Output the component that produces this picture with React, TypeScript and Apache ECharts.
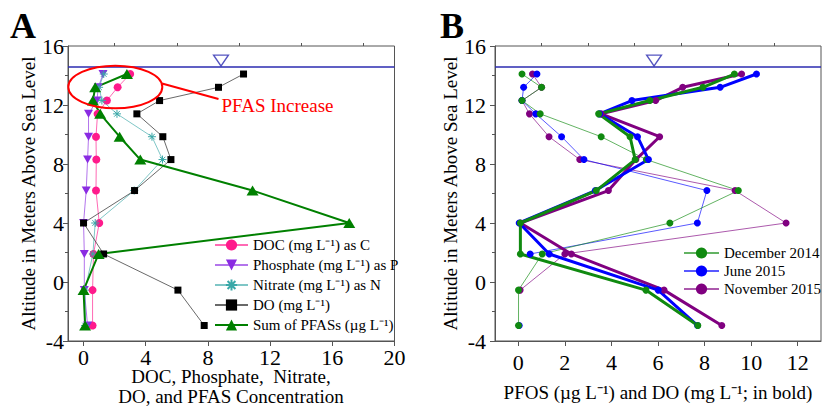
import React, { useEffect, useRef } from 'react';
import * as echarts from 'echarts';

// ---------- data ----------
const ALTITUDE = [14.1, 13.2, 12.3, 11.4, 9.85, 8.3, 6.2, 4.0, 1.9, -0.55, -2.95];

// Panel A
const DOC = [3.0, 2.19, 1.5, 0.9, 0.8, 0.82, 0.8, 1.01, 0.64, 0.58, 0.58];
const PHOSPHATE = [1.25, 0.95, 0.86, 0.32, 0.32, 0.26, 0.17, 0.0, 0.05, 0.05, 0.26];
const NITRATE = [1.3, 1.0, 1.18, 2.15, 4.4, 5.08, 3.26, 0.75, 0.6, 0.1, 0.1];
const DO_A = [10.29, 8.68, 4.89, 3.43, 5.1, 5.62, 3.28, 0.0, 1.29, 6.07, 7.76];
const PFAS_SUM = [2.79, 0.75, 0.6, 1.07, 2.32, 3.65, 10.87, 17.09, 0.97, 0.0, 0.1];

// Panel B (thin = PFOS, bold = DO)
const PFOS_DEC14 = [0.16, 1.0, 0.16, 0.94, 3.56, 5.5, 9.45, 6.51, 1.03, 0.01, 0.01];
const PFOS_JUN15 = [0.8, 0.23, 0.16, 0.75, 1.86, 2.82, 8.1, 7.69, 0.51, null, 0.04];
const PFOS_NOV15 = [0.61, 1.0, 0.16, 0.48, 1.32, 2.64, 9.31, 11.5, 2.0, 0.08, null];
const DO_DEC14 = [9.28, 7.93, 5.65, 3.45, 4.8, 5.02, 3.35, 0.09, 0.09, 5.48, 7.71];
const DO_JUN15 = [10.23, 8.67, 4.88, 3.49, 5.12, 5.59, 3.31, 0.04, 1.33, 6.01, 7.7];
const DO_NOV15 = [9.59, 7.06, 5.9, 3.56, 6.07, 5.05, 3.87, 0.09, 2.28, 6.26, 8.74];

const WATER_LEVEL = 14.6;
const WATER_MARK_A = [8.84, 15.01];
const WATER_MARK_B = [5.83, 15.01];

const X_TICKS_A = [0, 4, 8, 12, 16, 20];
const X_MINOR_A = [2, 6, 10, 14, 18];
const X_TICKS_B = [0, 2, 4, 6, 8, 10, 12];
const X_MINOR_B = [1, 3, 5, 7, 9, 11];

const NAMES_A = [
  'DOC (mg L⁻¹) as C',
  'Phosphate (mg L⁻¹) as P',
  'Nitrate (mg L⁻¹) as N',
  'DO (mg L⁻¹)',
  'Sum of PFASs (µg L⁻¹)',
];
const NAMES_B = ['December 2014', 'June 2015', 'November 2015'];

const X_TITLE_A = 'DOC, Phosphate,  Nitrate,\nDO, and PFAS Concentration';
const X_TITLE_B = 'PFOS (µg L⁻¹) and DO (mg L⁻¹; in bold)';

// ---------- styling ----------
const FONT = '"Liberation Serif", "Times New Roman", serif';
const AXIS_COLOR = '#555';
const WATER_COLOR = '#2b2bb0';
const DOWN_TRI = 'path://M0,0L10,0L5,8.7Z';
const ASTERISK = 'path://M0,5L10,5M5,0L5,10M1.5,1.5L8.5,8.5M8.5,1.5L1.5,8.5';

const pairs = (xs: (number | null)[]) =>
  xs.map((x, i) => [x === null ? '-' : x, ALTITUDE[i]]);

function xAxes(grid: number, min: number, max: number, major: number[], minor: number[], name: string, nameGap: number, labelMargin: number) {
  return [
    {
      gridIndex: grid,
      type: 'value',
      min,
      max,
      name,
      nameLocation: 'middle',
      nameGap,
      nameMoveOverlap: false,
      nameTextStyle: { fontFamily: FONT, fontSize: 19, color: '#000', lineHeight: 21 },
      axisLine: { show: true, onZero: false, lineStyle: { color: AXIS_COLOR, width: 1 } },
      axisTick: { show: true, customValues: major, length: 5, lineStyle: { color: AXIS_COLOR } },
      axisLabel: { show: true, customValues: major, margin: labelMargin, fontFamily: FONT, fontSize: 22, color: '#000' },
      splitLine: { show: false },
    },
    {
      gridIndex: grid,
      type: 'value',
      min,
      max,
      axisLine: { show: false, onZero: false },
      axisTick: { show: true, customValues: minor, length: 3, lineStyle: { color: AXIS_COLOR } },
      axisLabel: { show: false },
      splitLine: { show: false },
    },
  ];
}

function yAxis(grid: number, labelMargin: number, nameGap: number) {
  return {
    gridIndex: grid,
    type: 'value',
    min: -4,
    max: 16,
    interval: 4,
    name: 'Altitude in Meters Above Sea Level',
    nameLocation: 'middle',
    nameGap,
    nameTextStyle: { fontFamily: FONT, fontSize: 19, color: '#000' },
    axisLine: { show: true, onZero: false, lineStyle: { color: AXIS_COLOR, width: 1 } },
    axisTick: { show: true, length: 5, lineStyle: { color: AXIS_COLOR } },
    minorTick: { show: true, splitNumber: 2, length: 3, lineStyle: { color: AXIS_COLOR } },
    axisLabel: { margin: labelMargin, fontFamily: FONT, fontSize: 22, color: '#000' },
    splitLine: { show: false },
  };
}

function thin(name: string, xi: number, yi: number, data: (number | null)[], color: string, symbol: string, size: number | number[], extra: any = {}) {
  return {
    name,
    type: 'line',
    xAxisIndex: xi,
    yAxisIndex: yi,
    data: pairs(data),
    symbol,
    symbolSize: size,
    showSymbol: true,
    connectNulls: false,
    lineStyle: { color, width: 1, opacity: 0.65 },
    itemStyle: { color },
    emphasis: { disabled: true },
    ...extra,
  };
}

function waterSeries(xi: number, yi: number, mark: number[]) {
  return {
    name: 'water' + xi,
    type: 'scatter',
    xAxisIndex: xi,
    yAxisIndex: yi,
    data: [mark],
    symbol: DOWN_TRI,
    symbolSize: [15, 11],
    itemStyle: { color: '#fff', borderColor: WATER_COLOR, borderWidth: 1.3 },
    emphasis: { disabled: true },
    z: 5,
    markLine: {
      silent: true,
      symbol: 'none',
      label: { show: false },
      lineStyle: { color: WATER_COLOR, width: 1.5, type: 'solid' },
      data: [{ yAxis: WATER_LEVEL }],
    },
  };
}

const gridBase = {
  show: true,
  borderColor: AXIS_COLOR,
  borderWidth: 1,
  backgroundColor: 'transparent',
  containLabel: false,
  outerBoundsMode: 'none',
};

const option: any = {
  animation: false,
  backgroundColor: '#fff',
  textStyle: { fontFamily: FONT },
  grid: [
    { ...gridBase, left: 68, top: 46, width: 326.5, height: 295 },
    { ...gridBase, left: 495, top: 46, width: 326, height: 295 },
  ],
  xAxis: [
    ...xAxes(0, -1, 20, X_TICKS_A, X_MINOR_A, '', 26, 5),
    ...xAxes(1, -1, 13, X_TICKS_B, X_MINOR_B, X_TITLE_B, 41, 10),
  ],
  yAxis: [yAxis(0, 4, 27), yAxis(1, 9, 35)],
  legend: [
    {
      data: NAMES_A,
      orient: 'vertical',
      left: 209,
      top: 232,
      itemWidth: 33,
      itemHeight: 14,
      itemGap: 4,
      textStyle: { fontFamily: FONT, fontSize: 15, color: '#000', lineHeight: 16 },
      selectedMode: false,
    },
    {
      data: NAMES_B,
      orient: 'vertical',
      left: 678,
      top: 240,
      itemWidth: 35,
      itemHeight: 14,
      itemGap: 2,
      textStyle: { fontFamily: FONT, fontSize: 15, color: '#000', lineHeight: 16 },
      selectedMode: false,
    },
  ],
  series: [
    waterSeries(0, 0, WATER_MARK_A),
    thin(NAMES_A[0], 0, 0, DOC, '#ff1a8c', 'circle', 8),
    thin(NAMES_A[1], 0, 0, PHOSPHATE, '#8a2be2', DOWN_TRI, [9, 8]),
    thin(NAMES_A[2], 0, 0, NITRATE, '#3aa8a8', ASTERISK, 8, {
      itemStyle: { color: 'rgba(0,0,0,0)', borderColor: '#3aa8a8', borderWidth: 1 },
    }),
    thin(NAMES_A[3], 0, 0, DO_A, '#000', 'rect', 7, { lineStyle: { color: '#444', width: 1, opacity: 0.8 } }),
    {
      name: NAMES_A[4],
      type: 'line',
      xAxisIndex: 0,
      yAxisIndex: 0,
      data: pairs(PFAS_SUM),
      symbol: 'triangle',
      symbolSize: [12, 10],
      lineStyle: { color: '#008000', width: 2 },
      itemStyle: { color: '#008000' },
      emphasis: { disabled: true },
    },

    waterSeries(2, 1, WATER_MARK_B),
    thin(NAMES_B[2], 2, 1, PFOS_NOV15, '#800080', 'circle', 7),
    thin(NAMES_B[1], 2, 1, PFOS_JUN15, '#0000ff', 'circle', 7),
    thin(NAMES_B[0], 2, 1, PFOS_DEC14, '#108a10', 'circle', 7),
    thin('DO November 2015', 2, 1, DO_NOV15, '#800080', 'circle', 7, { lineStyle: { color: '#800080', width: 3 } }),
    thin('DO June 2015', 2, 1, DO_JUN15, '#0000ff', 'circle', 7, { lineStyle: { color: '#0000ff', width: 3 } }),
    thin('DO December 2014', 2, 1, DO_DEC14, '#108a10', 'circle', 7, { lineStyle: { color: '#108a10', width: 3 } }),
  ],
  graphic: [
    { type: 'text', left: 10, top: 8, style: { text: 'A', font: `bold 36px ${FONT}`, fill: '#000' } },
    { type: 'text', left: 440, top: 8, style: { text: 'B', font: `bold 36px ${FONT}`, fill: '#000' } },
    {
      type: 'text',
      x: 231,
      y: 386,
      style: {
        text: X_TITLE_A,
        font: `19px ${FONT}`,
        fill: '#000',
        lineHeight: 20,
        align: 'center',
        textAlign: 'center',
        verticalAlign: 'middle',
        textVerticalAlign: 'middle',
      },
    },
    {
      type: 'ellipse',
      shape: { cx: 115.3, cy: 87, rx: 47, ry: 21.3 },
      style: { fill: 'none', stroke: '#ff0000', lineWidth: 2 },
      z: 100,
    },
    {
      type: 'line',
      shape: { x1: 162, y1: 83.5, x2: 218.5, y2: 99 },
      style: { stroke: '#ff0000', lineWidth: 2 },
      z: 100,
    },
    {
      type: 'text',
      x: 221.5,
      y: 105,
      style: { text: 'PFAS Increase', font: `19px ${FONT}`, fill: '#ff0000', textVerticalAlign: 'middle', verticalAlign: 'middle' },
      z: 100,
    },
  ],
};

export default function App() {
  const ref = useRef<HTMLDivElement>(null);
  useEffect(() => {
    const chart = echarts.init(ref.current!, null, { renderer: 'svg' });
    chart.setOption(option);
    return () => chart.dispose();
  }, []);
  return (
    <div
      ref={ref}
      style={{ position: 'absolute', left: 0, top: 0, width: 823, height: 407 }}
    />
  );
}
